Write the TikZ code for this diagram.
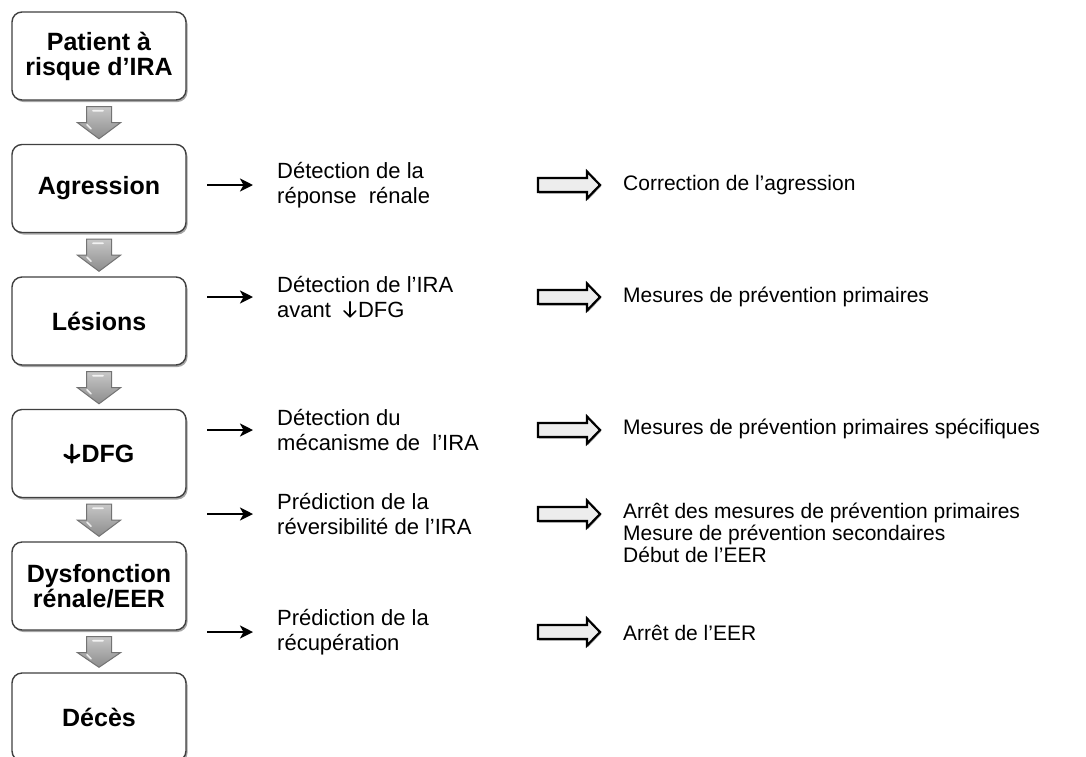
\documentclass[tikz,border=0pt]{standalone}
\usepackage{fontspec}
\setmainfont{Liberation Sans}
\usetikzlibrary{arrows.meta,shadows,calc}
\newcommand{\dnsym}[1]{\tikz[baseline=0pt]\draw[line width=#1, line cap=round, line join=round]
  (0.3em,0.72em) -- (0.3em,0.03em) (0.03em,0.3em) -- (0.3em,0.03em) -- (0.57em,0.3em);\hspace{0.06em}}
\tikzset{
  stage/.style={draw=black!75, line width=1.4pt, rounded corners=10pt, fill=white,
    minimum width=174pt, minimum height=88pt, align=center,
    font=\bfseries\fontsize{25}{25}\selectfont,
    drop shadow={shadow xshift=1.5pt, shadow yshift=-2pt, opacity=0.35, fill=black}},
  colA/.style={anchor=west, inner sep=0pt, align=left, font=\fontsize{22}{25}\selectfont},
  colB/.style={anchor=west, inner sep=0pt, align=left, font=\fontsize{21}{22}\selectfont},
  blk/.style={line width=2.8pt, -{Stealth[length=13pt,width=13pt,inset=3.5pt]}},
  hollow/.style={draw=black, line width=2.2pt, fill=black!7, line join=miter,
    drop shadow={shadow xshift=1pt, shadow yshift=-1.5pt, opacity=0.35, fill=black}},
  grayarr/.style={draw=black!55, line width=1pt, top color=black!22, bottom color=black!45}
}
\newcommand{\dnarrow}[2]{%
  \path let \p1=(#1.south), \p2=(#2.north) in
    [grayarr] (\x1-12.5pt,\y1-6pt) -- (\x1+12.5pt,\y1-6pt) -- (\x1+12.5pt,\y1-22pt)
    -- (\x1+21.5pt,\y1-22pt) -- (\x2,\y2+5pt) -- (\x1-21.5pt,\y1-22pt)
    -- (\x1-12.5pt,\y1-22pt) -- cycle;
  \path let \p1=(#1.south) in
    [draw=white, opacity=0.8, line width=1.6pt, line cap=round]
    (\x1-6pt,\y1-10pt) -- (\x1+4pt,\y1-10pt)
    (\x1-12pt,\y1-24pt) -- (\x1-8pt,\y1-28pt);}
\newcommand{\harrow}[1]{%
  \path let \p1=(#1) in
    [hollow] (\x1,\y1+7pt) -- (\x1+49pt,\y1+7pt) -- (\x1+49pt,\y1+13.5pt)
    -- (\x1+62pt,\y1) -- (\x1+49pt,\y1-13.5pt) -- (\x1+49pt,\y1-7pt)
    -- (\x1,\y1-7pt) -- cycle;}
\begin{document}
\begin{tikzpicture}[x=1pt,y=-1pt]
\useasboundingbox (0,0) rectangle (1086,756);
\fill[white] (0,0) rectangle (1086,756);
\clip (0,0) rectangle (1086,756);
% stages
\node[stage] (b1) at (99,56) {Patient à\\risque d’IRA};
\node[stage] (b2) at (99,188.5) {Agression};
\node[stage] (b3) at (99,321) {Lésions};
\node[stage] (b4) at (99,453.5) {\dnsym{3pt}DFG};
\node[stage] (b5) at (99,586) {Dysfonction\\rénale/EER};
\node[stage] (b6) at (99,717) {Décès};
\dnarrow{b1}{b2}
\dnarrow{b2}{b3}
\dnarrow{b3}{b4}
\dnarrow{b4}{b5}
\dnarrow{b5}{b6}
% column 1
\node[colA] (t1) at (277,185) {Détection de la\\réponse\ \ rénale};
\node[colA] (t2) at (277,297) {Détection de l’IRA\\avant\ \ \dnsym{1.6pt}DFG};
\node[colA] (t3) at (277,430) {Détection du\\mécanisme de\ \ l’IRA};
\node[colA] (t4) at (277,514) {Prédiction de la\\réversibilité de l’IRA};
\node[colA] (t5) at (277,632) {Prédiction de la\\récupération};
% column 2
\node[colB] (u1) at (623,185) {Correction de l’agression};
\node[colB] (u2) at (623,297) {Mesures de prévention primaires};
\node[colB] (u3) at (623,429) {Mesures de prévention primaires spécifiques};
\node[colB] (u4) at (623,533) {Arrêt des mesures de prévention primaires\\Mesure de prévention secondaires\\Début de l’EER};
\node[colB] (u5) at (623,633) {Arrêt de l’EER};
% arrows
\foreach \i in {1,...,5}{
  \draw[blk] ([xshift=-70pt]t\i.west) -- ([xshift=-24pt]t\i.west);
  \harrow{[xshift=261pt]t\i.west}
}
\end{tikzpicture}
\end{document}
